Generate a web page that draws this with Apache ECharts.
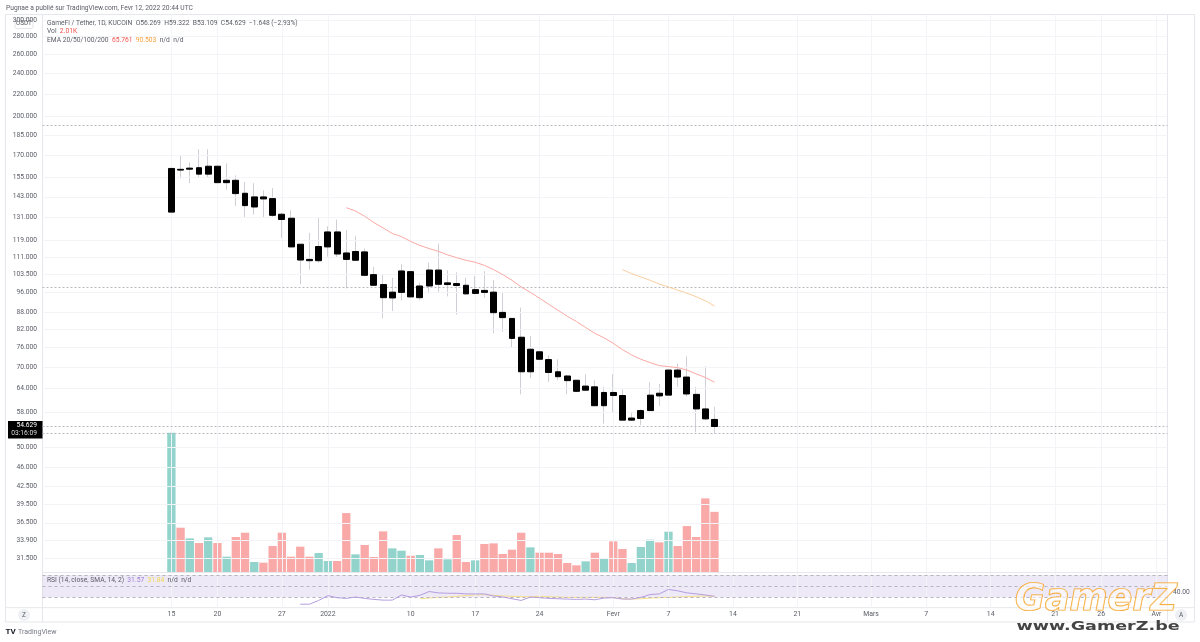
<!DOCTYPE html>
<html><head><meta charset="utf-8">
<style>html,body{margin:0;padding:0;background:#fff}#c{width:1200px;height:642px}</style>
<script src="https://cdn.jsdelivr.net/npm/echarts@6/dist/echarts.min.js"></script>
</head><body><div id="c"></div>
<script>
const dates = ['2021-12-15','2021-12-16','2021-12-17','2021-12-18','2021-12-19','2021-12-20','2021-12-21','2021-12-22','2021-12-23','2021-12-24','2021-12-25','2021-12-26','2021-12-27','2021-12-28','2021-12-29','2021-12-30','2021-12-31','2022-01-01','2022-01-02','2022-01-03','2022-01-04','2022-01-05','2022-01-06','2022-01-07','2022-01-08','2022-01-09','2022-01-10','2022-01-11','2022-01-12','2022-01-13','2022-01-14','2022-01-15','2022-01-16','2022-01-17','2022-01-18','2022-01-19','2022-01-20','2022-01-21','2022-01-22','2022-01-23','2022-01-24','2022-01-25','2022-01-26','2022-01-27','2022-01-28','2022-01-29','2022-01-30','2022-01-31','2022-02-01','2022-02-02','2022-02-03','2022-02-04','2022-02-05','2022-02-06','2022-02-07','2022-02-08','2022-02-09','2022-02-10','2022-02-11','2022-02-12'];
const opens = [134.1,160.4,160.5,161.5,157.2,162.5,151.7,153.2,145.1,137.0,142.9,141.9,132.9,130.7,117.2,110.0,109.4,115.9,123.4,113.0,109.6,113.5,103.2,99.0,93.6,95.8,104.5,93.7,98.4,105.2,99.0,99.4,98.7,95.4,96.6,95.9,88.1,85.9,79.4,68.7,74.7,72.3,68.7,67.5,66.3,63.6,64.5,59.6,63.0,62.2,56.1,56.5,58.4,62.8,62.3,69.2,67.2,62.5,58.8,56.269];
const closes = [161.0,159.9,161.2,157.2,162.5,151.7,153.2,144.9,137.8,142.9,141.7,132.3,130.0,115.9,109.7,109.4,116.1,123.4,112.5,110.0,113.7,102.9,98.7,93.7,95.9,104.8,94.0,98.4,105.2,99.1,99.7,98.6,95.2,96.9,95.8,88.0,86.2,79.0,68.7,75.5,72.4,68.5,67.3,66.2,63.3,64.7,59.6,63.0,62.2,56.1,56.6,58.4,62.3,62.1,69.2,67.2,62.6,58.8,56.4,54.629];
const lows = [134.1,154.4,151.3,155.2,155.2,141.5,147.3,137.5,131.4,132.7,131.4,131.4,120.4,115.9,99.1,105.4,108.5,111.3,111.1,97.4,109.3,102.9,98.4,85.9,88.6,92.7,90.5,92.7,95.4,96.0,94.2,87.3,95.1,95.0,93.7,80.7,81.2,76.0,62.5,66.9,62.1,65.8,66.3,62.5,63.1,63.6,59.5,55.3,57.8,56.1,55.9,54.9,58.3,59.6,61.0,64.5,61.9,53.3,56.1,53.109];
const highs = [192.8,170.1,165.1,174.4,174.4,165.4,164.5,156.4,152.1,151.4,146.9,148.3,133.6,135.1,117.2,122.9,131.1,126.3,130.0,124.3,121.2,115.1,106.6,103.2,101.8,107.8,104.7,99.8,108.5,117.5,105.1,104.2,101.9,102.6,104.7,100.8,96.0,85.9,89.9,79.8,76.0,73.6,72.4,67.8,66.3,68.0,66.3,64.5,68.0,63.8,58.1,58.7,65.7,65.3,72.1,71.1,73.3,64.5,70.3,59.322];
const volumes = [4652,1480,1124,968,1158,968,512,1169,1313,334,312,868,1313,512,846,512,634,367,367,1970,590,902,501,1358,790,712,545,568,390,790,423,1235,334,390,935,957,601,746,1313,824,646,646,601,300,223,356,646,434,1024,768,300,835,1080,991,1347,868,1536,1169,2460,2010];
const volumeUp = [1,0,1,0,1,0,1,0,0,1,0,0,0,0,0,0,1,1,0,0,1,0,0,0,1,1,0,1,1,0,1,0,0,1,0,0,0,0,0,1,0,0,0,0,0,1,0,1,0,0,1,1,1,0,1,0,0,0,0,0];
const ema20 = [136.6,134.7,131.8,128.3,125.5,122.6,121.0,118.6,116.6,115.1,113.8,112.1,110.8,109.6,108.7,107.3,105.4,103.2,100.8,98.0,95.8,93.5,91.1,88.9,86.7,84.8,82.7,80.7,79.2,77.4,75.4,73.7,72.4,71.4,70.5,70.2,69.9,69.2,68.1,67.1,65.761];
const ema20Start = 19;
const ema50 = [105.4,103.6,102.2,100.8,99.2,98.0,96.7,95.5,94.1,92.5,90.503];
const ema50Start = 49;
const rsi = [17.3,17.3,24.1,32.8,29.1,27.8,30.3,27.8,26.0,24.7,24.7,34.0,30.3,33.4,40.2,37.8,37.1,37.1,35.9,35.9,35.9,32.2,30.3,27.2,24.1,30.3,29.1,27.8,27.2,26.6,26.0,26.6,25.3,28.4,29.1,26.6,26.6,29.7,34.7,35.9,44.0,41.5,37.8,35.9,34.0,31.57];
const rsiStart = 14;
const rsiSma = [27.2,28.4,29.7,30.3,31.6,32.8,34.0,34.7,33.4,32.2,31.6,30.9,30.9,31.6,30.9,30.3,29.7,29.7,29.7,29.7,29.7,29.1,27.2,26.6,27.2,28.4,29.1,29.7,30.3,30.9,31.6,32.2,31.84];
const rsiSmaStart = 27;
const priceTicks = [300,280,260,240,220,200,185,170,155,143,131,119,111,103.5,96,88,82,76,70,64,58,50,46,42.5,39.5,36.5,33.9,31.5];
const priceLevels = [192.8,97.7,54.629,53.109];
const timeTickDates = ['2021-12-15','2021-12-20','2021-12-27','2022-01-01','2022-01-10','2022-01-17','2022-01-24','2022-02-01','2022-02-07','2022-02-14','2022-02-21','2022-03-01','2022-03-07','2022-03-14','2022-03-21','2022-03-26','2022-04-01'];
const timeTickLabels = ['15','20','27','2022','10','17','24','Fevr','7','14','21','Mars','7','14','21','26','Avr'];
const rsiLevels = [30,50,70];

const TXT = '#5a5d66', GRID = '#f3f4f7', EDGE = '#e6e7ec', FONT = 'Roboto, "Open Sans", sans-serif', F = '6.7px ' + FONT;
const sliceSeries = (arr, start) => arr.map((v, i) => [dates[start + i], v]);
const rich = (pieces, x, y) => ({
  type: 'text', left: x, top: y, silent: true, z: 50,
  style: { text: pieces.map(p => '{' + p[1] + '|' + p[0] + '}').join('  '), font: F,
    rich: { g: { fill: TXT, font: F }, r: { fill: '#f0504a', font: F },
      o: { fill: '#f7a13a', font: F }, p: { fill: '#9c7fd6', font: F }, y: { fill: '#f2d74e', font: F } } }
});
const hline = (x1, x2, y) => ({ type: 'line', silent: true, z: 0, shape: { x1, y1: y, x2, y2: y }, style: { stroke: EDGE, lineWidth: 1 } });
const vline = (x, y1, y2) => ({ type: 'line', silent: true, z: 0, shape: { x1: x, y1, x2: x, y2 }, style: { stroke: EDGE, lineWidth: 1 } });
const xBase = { type: 'time', axisLine: { show: false }, axisTick: { show: false }, axisLabel: { show: false }, splitLine: { show: false } };
const vGrid = (withLabels) => ({ silent: true, symbol: 'none', animation: false, lineStyle: { color: GRID, width: 1, type: 'solid' },
  label: withLabels ? { show: true, position: 'start', distance: 3.5, color: TXT, fontSize: 6.9, formatter: '{b}' } : { show: false },
  data: timeTickDates.map((d, i) => ({ name: timeTickLabels[i], xAxis: d })) });

const chart = echarts.init(document.getElementById('c'), null, { renderer: 'canvas' });
chart.setOption({
  animation: false, backgroundColor: '#fff', textStyle: { fontFamily: FONT },
  grid: [
    { left: 42.5, right: 32.5, top: 14.5, height: 557.5 },
    { left: 42.5, right: 32.5, top: 573, height: 34.7 }
  ],
  xAxis: [
    // The library widens a bar-bearing time axis by half a bar on each side; these bounds land on the same span as the RSI axis below.
    Object.assign({}, xBase, { gridIndex: 0, min: '2021-12-01 10:49', max: '2022-04-01 18:11' }),
    Object.assign({}, xBase, { gridIndex: 1, min: '2021-12-01', max: '2022-04-02 05:00' })
  ],
  yAxis: [
    { type: 'log', logBase: 10, gridIndex: 0, min: 29.7, max: 306.8, axisLine: { show: false }, axisTick: { show: false }, axisLabel: { show: false }, splitLine: { show: false }, minorSplitLine: { show: false } },
    { type: 'value', gridIndex: 0, min: 0, max: 18634, axisLine: { show: false }, axisTick: { show: false }, axisLabel: { show: false }, splitLine: { show: false } },
    { type: 'value', gridIndex: 1, min: 11, max: 73.7, position: 'right', axisLine: { show: false }, axisTick: { show: false }, axisLabel: { show: false }, splitLine: { show: false } }
  ],
  series: [
    { type: 'line', name: 'priceTicks', xAxisIndex: 0, yAxisIndex: 0, data: [], z: 1, silent: true,
      markLine: { silent: true, symbol: 'none', animation: false, lineStyle: { color: GRID, width: 1, type: 'solid' },
        label: { show: true, position: 'start', distance: 5.5, color: TXT, fontSize: 6.7, formatter: p => p.value.toFixed(3) },
        data: priceTicks.map(v => ({ yAxis: v })) } },
    { type: 'line', name: 'timeTicks', xAxisIndex: 0, yAxisIndex: 0, data: [], z: 1, silent: true, markLine: vGrid(false) },
    { type: 'line', name: 'priceLevels', xAxisIndex: 0, yAxisIndex: 0, data: [], z: 2, silent: true,
      markLine: { silent: true, symbol: 'none', animation: false, lineStyle: { color: '#b9bbc2', width: 1, type: [2, 2] }, label: { show: false },
        data: priceLevels.map(v => ({ yAxis: v })) } },
    { type: 'bar', name: 'Vol', xAxisIndex: 0, yAxisIndex: 1, z: 3, barWidth: 8.3, silent: true,
      data: volumes.map((v, i) => ({ value: [dates[i], v], itemStyle: { color: volumeUp[i] ? '#92d3cb' : '#f8a9a8' } })) },
    { type: 'candlestick', name: 'wicks', xAxisIndex: 0, yAxisIndex: 0, z: 4, barWidth: 1, silent: true,
      itemStyle: { color: '#cfd0d6', color0: '#cfd0d6', borderColor: '#cfd0d6', borderColor0: '#cfd0d6', borderWidth: 1 },
      data: dates.map((d, i) => [d, opens[i], closes[i], lows[i], highs[i]]) },
    { type: 'candlestick', name: 'GameFi / Tether', xAxisIndex: 0, yAxisIndex: 0, z: 5, barWidth: 6.4, silent: true,
      itemStyle: { color: '#000', color0: '#000', borderColor: '#000', borderColor0: '#000', borderWidth: 1 },
      data: dates.map((d, i) => [d, opens[i], closes[i], Math.min(opens[i], closes[i]), Math.max(opens[i], closes[i])]) },
    { type: 'line', name: 'EMA 20', xAxisIndex: 0, yAxisIndex: 0, z: 6, symbol: 'none', silent: true, lineStyle: { color: '#f9a9a4', width: 1 }, data: sliceSeries(ema20, ema20Start) },
    { type: 'line', name: 'EMA 50', xAxisIndex: 0, yAxisIndex: 0, z: 6, symbol: 'none', silent: true, lineStyle: { color: '#fbcf9f', width: 1 }, data: sliceSeries(ema50, ema50Start) },
    { type: 'line', name: 'RSI ticks', xAxisIndex: 1, yAxisIndex: 2, data: [], z: 1, silent: true, markLine: vGrid(true) },
    { type: 'line', name: 'RSI SMA', xAxisIndex: 1, yAxisIndex: 2, z: 4, symbol: 'none', silent: true, lineStyle: { color: '#f6e08a', width: 1 }, data: sliceSeries(rsiSma, rsiSmaStart) },
    { type: 'line', name: 'RSI', xAxisIndex: 1, yAxisIndex: 2, z: 5, symbol: 'none', silent: true, lineStyle: { color: '#b49de0', width: 1 }, data: sliceSeries(rsi, rsiStart),
      markArea: { silent: true, itemStyle: { color: 'rgba(126,87,194,0.13)' }, data: [[{ yAxis: rsiLevels[0] }, { yAxis: rsiLevels[2] }]] },
      markLine: { silent: true, symbol: 'none', animation: false, lineStyle: { color: '#b5b3bf', width: 1, type: [3, 3] }, label: { show: false }, data: rsiLevels.map(v => ({ yAxis: v })) } }
  ],
  graphic: { elements: [
    hline(5, 1194, 14.5), hline(42, 1168, 572.5), hline(5, 1194, 607.7), hline(5, 1194, 622),
    vline(5.5, 14, 622), vline(42.5, 14, 622), vline(1167.5, 14, 622), vline(1194.5, 14, 622),
    { type: 'text', left: 6, top: 4.5, silent: true, z: 50, style: { text: 'Pugnae a publié sur TradingView.com, Fevr 12, 2022 20:44 UTC', fill: TXT, font: F } },
    rich([['GameFi / Tether, 1D, KUCOIN  O56.269  H59.322  B53.109  C54.629  −1.648 (−2.93%)','g']], 47, 19.5),
    rich([['Vol','g'],['2.01K','r']], 47, 28),
    rich([['EMA 20/50/100/200','g'],['65.761','r'],['90.503','o'],['n/d  n/d','g']], 47, 37),
    rich([['RSI (14, close, SMA, 14, 2)','g'],['31.57','p'],['31.84','y'],['n/d  n/d','g']], 47, 576.5),
    { type: 'group', z: 60, silent: true, children: [
      { type: 'rect', shape: { x: 15, y: 18, width: 18, height: 10.5, r: 2 }, style: { fill: '#fff', stroke: '#e4e5ea', lineWidth: 1 } },
      { type: 'text', x: 24, y: 23.2, style: { text: 'USDT', fill: TXT, font: '6.4px ' + FONT, align: 'center', verticalAlign: 'middle' } },
      { type: 'rect', shape: { x: 8, y: 421, width: 34.5, height: 17.5 }, style: { fill: '#000' } },
      { type: 'text', x: 37, y: 425.7, style: { text: '54.629', fill: '#fff', font: '6.7px ' + FONT, align: 'right', verticalAlign: 'middle' } },
      { type: 'text', x: 37, y: 433.5, style: { text: '03:16:09', fill: '#ddd', font: '6.7px ' + FONT, align: 'right', verticalAlign: 'middle' } },
      { type: 'circle', shape: { cx: 24, cy: 615, r: 6 }, style: { fill: '#eef0f4' } },
      { type: 'text', x: 24, y: 615, style: { text: 'Z', fill: TXT, font: '6.5px ' + FONT, align: 'center', verticalAlign: 'middle' } },
      { type: 'circle', shape: { cx: 1181, cy: 615, r: 6 }, style: { fill: '#eef0f4' } },
      { type: 'text', x: 1181, y: 615, style: { text: 'A', fill: TXT, font: '6.5px ' + FONT, align: 'center', verticalAlign: 'middle' } },
      { type: 'text', x: 1173, y: 592, style: { text: '40.00', fill: TXT, font: F, verticalAlign: 'middle' } },
      { type: 'text', x: 5.5, y: 632, style: { text: 'TV', fill: '#131722', font: 'bold 8px ' + FONT, verticalAlign: 'middle' } },
      { type: 'text', x: 18, y: 632.3, style: { text: 'TradingView', fill: '#777b85', font: '7px ' + FONT, verticalAlign: 'middle' } },
      { type: 'text', x: 1015, y: 601, z: 70, style: { text: 'GamerZ', fill: 'rgba(255,255,255,0.55)', stroke: '#f5a01e', lineWidth: 1.2, font: 'italic bold 36.5px "DejaVu Sans"', verticalAlign: 'middle' } },
      { type: 'text', x: 1016.5, y: 627, z: 70, scaleX: 1.35, style: { text: 'www.GamerZ.be', fill: '#444', font: 'bold 13px "DejaVu Sans"', verticalAlign: 'middle' } }
    ] }
  ] }
});
</script></body></html>
